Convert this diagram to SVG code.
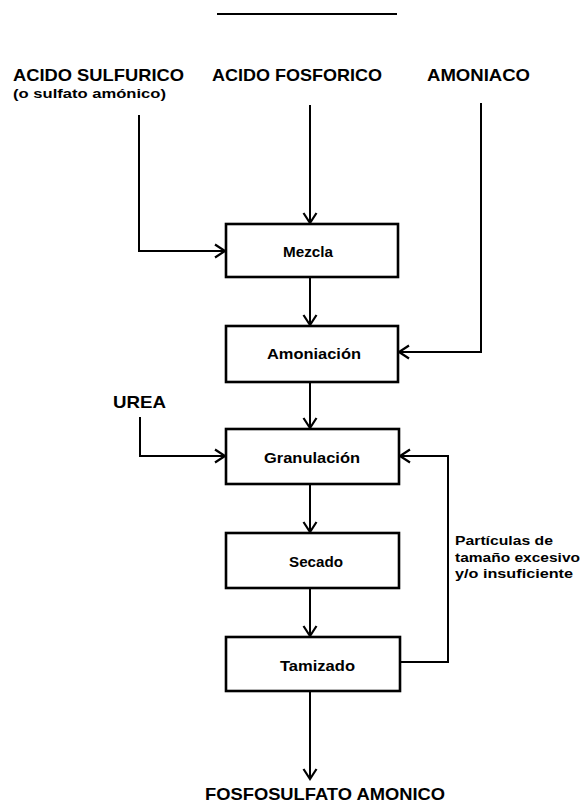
<svg xmlns="http://www.w3.org/2000/svg" width="582" height="804" viewBox="0 0 582 804">
  <style>
    .box { fill: #fff; stroke: #000; stroke-width: 2.6; }
    .conn { fill: none; stroke: #000; stroke-width: 2; }
    text { font-family: "Liberation Sans", Arial, sans-serif; font-weight: bold; fill: #000; }
    .feed { font-size: 17px; }
    .sub { font-size: 13.5px; }
    .step { font-size: 15px; }
    .note { font-size: 13.5px; }
  </style>
  <defs>
    <marker id="arrow" markerUnits="userSpaceOnUse" markerWidth="16" markerHeight="16" viewBox="-12 -8 14 16" refX="0" refY="0" orient="auto">
      <path d="M-10,-6.5 L0,0 L-10,6.5" fill="none" stroke="#000" stroke-width="2.2"/>
    </marker>
  </defs>

  <rect width="582" height="804" fill="#fff"/>

  <!-- rule above the chart -->
  <line x1="217" y1="14" x2="397" y2="14" stroke="#000" stroke-width="2"/>

  <!-- feed labels -->
  <g id="in-sulfurico">
    <text class="feed" x="13" y="81" textLength="171" lengthAdjust="spacingAndGlyphs">ACIDO SULFURICO</text>
    <text class="sub" x="13" y="98" textLength="153" lengthAdjust="spacingAndGlyphs">(o sulfato amónico)</text>
  </g>
  <g id="in-fosforico">
    <text class="feed" x="212" y="81" textLength="170" lengthAdjust="spacingAndGlyphs">ACIDO FOSFORICO</text>
  </g>
  <g id="in-amoniaco">
    <text class="feed" x="427" y="81" textLength="103" lengthAdjust="spacingAndGlyphs">AMONIACO</text>
  </g>
  <g id="in-urea">
    <text class="feed" x="113" y="408" textLength="53" lengthAdjust="spacingAndGlyphs">UREA</text>
  </g>

  <!-- process steps -->
  <g id="mezcla">
    <rect class="box" x="226" y="224" width="172" height="53"/>
    <text class="step" x="283" y="257" textLength="50" lengthAdjust="spacingAndGlyphs">Mezcla</text>
  </g>
  <g id="amoniacion">
    <rect class="box" x="226" y="326" width="172" height="56"/>
    <text class="step" x="267" y="359" textLength="94" lengthAdjust="spacingAndGlyphs">Amoniación</text>
  </g>
  <g id="granulacion">
    <rect class="box" x="226" y="429" width="173" height="55"/>
    <text class="step" x="264" y="463" textLength="96" lengthAdjust="spacingAndGlyphs">Granulación</text>
  </g>
  <g id="secado">
    <rect class="box" x="226" y="533" width="173" height="55"/>
    <text class="step" x="289" y="567" textLength="54" lengthAdjust="spacingAndGlyphs">Secado</text>
  </g>
  <g id="tamizado">
    <rect class="box" x="226" y="637" width="174" height="54"/>
    <text class="step" x="280" y="671" textLength="75" lengthAdjust="spacingAndGlyphs">Tamizado</text>
  </g>

  <!-- product -->
  <g id="producto">
    <text class="feed" x="205" y="800" textLength="240" lengthAdjust="spacingAndGlyphs">FOSFOSULFATO AMONICO</text>
  </g>

  <!-- recycle note -->
  <g id="nota-reciclo">
    <text class="note" x="455" y="545" textLength="98" lengthAdjust="spacingAndGlyphs">Partículas de</text>
    <text class="note" x="455" y="562" textLength="125" lengthAdjust="spacingAndGlyphs">tamaño excesivo</text>
    <text class="note" x="455" y="578" textLength="118" lengthAdjust="spacingAndGlyphs">y/o insuficiente</text>
  </g>

  <!-- connectors -->
  <g id="connectors">
    <path class="conn" d="M139,115 V251 H225" marker-end="url(#arrow)"/>
    <path class="conn" d="M310,105 V223" marker-end="url(#arrow)"/>
    <path class="conn" d="M481,103 V352 H399" marker-end="url(#arrow)"/>
    <path class="conn" d="M310,277 V325" marker-end="url(#arrow)"/>
    <path class="conn" d="M310,382 V428" marker-end="url(#arrow)"/>
    <path class="conn" d="M140,417 V456 H225" marker-end="url(#arrow)"/>
    <path class="conn" d="M310,484 V532" marker-end="url(#arrow)"/>
    <path class="conn" d="M310,588 V636" marker-end="url(#arrow)"/>
    <path class="conn" d="M310,691 V779" marker-end="url(#arrow)"/>
    <path class="conn" d="M400,662 H448 V456 H400" marker-end="url(#arrow)"/>
  </g>
</svg>
